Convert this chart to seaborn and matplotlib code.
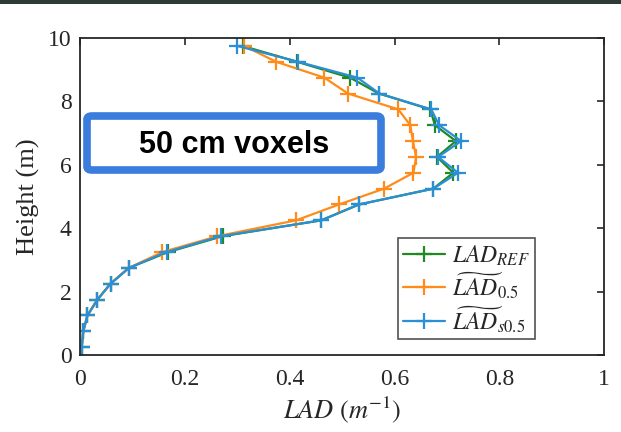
import pandas as pd
import matplotlib
matplotlib.use("Agg")
import matplotlib.pyplot as plt
from matplotlib.patches import FancyBboxPatch, Rectangle
import seaborn as sns

# Alturas de los voxels (m) y perfiles LAD
alturas = [0.25, 0.75, 1.25, 1.75, 2.25, 2.75, 3.25, 3.75, 4.25, 4.75,
           5.25, 5.75, 6.25, 6.75, 7.25, 7.75, 8.25, 8.75, 9.25, 9.75]
lad_ref = [0.003, 0.006, 0.014, 0.033, 0.058, 0.093, 0.168, 0.272, 0.460, 0.532,
           0.674, 0.712, 0.681, 0.717, 0.677, 0.668, 0.570, 0.515, 0.414, 0.310]
lad_05 = [0.003, 0.006, 0.014, 0.033, 0.058, 0.093, 0.157, 0.262, 0.412, 0.494,
          0.580, 0.636, 0.641, 0.635, 0.630, 0.607, 0.511, 0.466, 0.374, 0.313]
lad_s05 = [0.003, 0.006, 0.014, 0.033, 0.058, 0.093, 0.165, 0.268, 0.460, 0.532,
           0.674, 0.721, 0.683, 0.727, 0.685, 0.670, 0.571, 0.529, 0.416, 0.300]

series = [r"$LAD_{REF}$", r"$\widetilde{LAD}_{0.5}$", r"$\widetilde{LAD}_{s0.5}$"]
colores = ["#1f8a1f", "#ff8c1a", "#2a8fd6"]

sns.set_style("white")
plt.rcParams["font.family"] = ["Liberation Serif", "DejaVu Serif"]
plt.rcParams["mathtext.fontset"] = "stix"

fig = plt.figure(figsize=(6.21, 4.32), dpi=100)
ax = fig.add_axes([0.129, 0.178, 0.844, 0.734])

# Una línea por perfil, en el orden de las alturas
for vals, nombre, c in zip([lad_ref, lad_05, lad_s05], series, colores):
    df = pd.DataFrame({"altura": alturas, "lad": vals})
    sns.lineplot(data=df, x="lad", y="altura", sort=False, estimator=None,
                 orient="y", color=c, marker="+", markersize=12,
                 markeredgewidth=1.6, markeredgecolor=c, linewidth=1.6,
                 label=nombre, ax=ax)

ax.set_xlim(0, 1)
ax.set_ylim(0, 10)
ax.set_xticks([0, 0.2, 0.4, 0.6, 0.8, 1])
ax.set_xticklabels(["0", "0.2", "0.4", "0.6", "0.8", "1"])
ax.set_yticks([0, 2, 4, 6, 8, 10])
ax.tick_params(direction="in", top=True, right=True, length=5, width=1.2,
               labelsize=17, colors="#262626")
ax.tick_params(axis="x", pad=10)
ax.tick_params(axis="y", pad=6)
for s in ax.spines.values():
    s.set_visible(True)
    s.set_color("#262626")
    s.set_linewidth(1.3)
ax.set_xlabel(r"$LAD\ (m^{-1})$", fontsize=19, color="#262626", labelpad=3)
ax.set_ylabel("Height (m)", fontsize=19, color="#262626", labelpad=6)

leg = ax.legend(loc="lower right", bbox_to_anchor=(0.867, 0.05), fontsize=17,
                frameon=True, fancybox=False, handlelength=1.8,
                handletextpad=0.3, borderpad=0.2, labelspacing=0.12,
                borderaxespad=0)
leg.get_frame().set_edgecolor("#262626")
leg.get_frame().set_linewidth(1.2)

# Recuadro de anotación
caja = FancyBboxPatch((87 / 621, 1 - 170 / 432), 294 / 621, 54 / 432,
                      boxstyle="round,pad=0,rounding_size=0.008",
                      transform=fig.transFigure, facecolor="white",
                      edgecolor="#3b7ddd", linewidth=5.5, zorder=5)
fig.add_artist(caja)
fig.text(234 / 621, 1 - 145 / 432, "50 cm voxels", ha="center", va="center",
         fontsize=22, fontweight="bold", family="Liberation Sans",
         color="black", zorder=6)

# Franja oscura superior de la captura
fig.add_artist(Rectangle((0, 1 - 4 / 432), 1, 4 / 432, transform=fig.transFigure,
                         facecolor="#2e3a36", edgecolor="none"))

plt.savefig("out.png", dpi=100)
plt.close()
